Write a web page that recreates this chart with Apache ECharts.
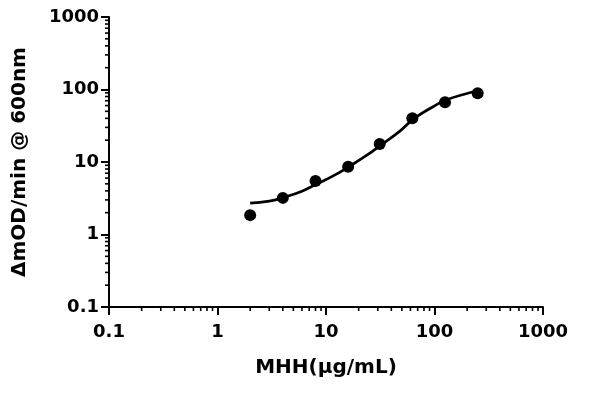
<!DOCTYPE html>
<html>
<head>
<meta charset="utf-8">
<script src="https://cdn.jsdelivr.net/npm/echarts@6/dist/echarts.min.js"></script>
<style>html,body{margin:0;padding:0;background:#fff}#c{width:600px;height:394px}</style>
</head>
<body>
<div id="c"></div>
<script>
// Data
const conc = [2, 4, 8, 16, 31.25, 62.5, 125, 250];
const rate = [1.85, 3.2, 5.45, 8.6, 17.7, 40.0, 66.5, 88.6];
// Fitted curve
const curveX = [2, 3, 4, 6, 8, 12, 16, 24, 32, 48, 64, 96, 128, 192, 250];
const curveY = [2.71, 2.88, 3.22, 3.96, 4.87, 6.59, 8.5, 12.5, 17.1, 26.7, 39.1, 57.3, 71.6, 86.7, 95.3];
const xTicks = [0.1, 1, 10, 100, 1000];
const yTicks = [0.1, 1, 10, 100, 1000];
const xTitle = 'MHH(\u03bcg/mL)';
const yTitle = '\u0394mOD/min @ 600nm';

// minor tick positions (2..9 within each decade)
function minorTicks(ticks) {
  const out = [];
  for (let i = 0; i < ticks.length - 1; i++) {
    for (let k = 2; k <= 9; k++) out.push(+(ticks[i] * k).toPrecision(6));
  }
  return out;
}
const xMinor = minorTicks(xTicks);
const yMinor = minorTicks(yTicks);

const FONT = 'DejaVu Sans';
const chart = echarts.init(document.getElementById('c'), null, {renderer: 'canvas'});
const fmt = v => String(+(+v).toPrecision(6));
chart.setOption({
  animation: false,
  backgroundColor: '#fff',
  grid: {left: 109, top: 17, width: 434, height: 290, containLabel: false},
  xAxis: {
    type: 'log', logBase: 10, min: xTicks[0], max: xTicks[xTicks.length - 1],
    name: xTitle, nameLocation: 'middle', nameGap: 51,
    nameTextStyle: {fontFamily: FONT, fontWeight: 'bold', fontSize: 20, color: '#000'},
    axisLine: {show: true, onZero: false, lineStyle: {color: '#000', width: 2}},
    axisTick: {show: true, inside: false, length: 8, lineStyle: {color: '#000', width: 2}},
    axisLabel: {fontFamily: FONT, fontWeight: 'bold', fontSize: 18, color: '#000', margin: 16, formatter: fmt, showMinLabel: true, showMaxLabel: true},
    splitLine: {show: false},
    minorTick: {show: false}
  },
  yAxis: {
    type: 'log', logBase: 10, min: yTicks[0], max: yTicks[yTicks.length - 1],
    name: yTitle, nameLocation: 'middle', nameGap: 79, nameRotate: 90,
    nameTextStyle: {fontFamily: FONT, fontWeight: 'bold', fontSize: 20, color: '#000'},
    axisLine: {show: true, onZero: false, lineStyle: {color: '#000', width: 2}},
    axisTick: {show: true, inside: false, length: 8, lineStyle: {color: '#000', width: 2}},
    axisLabel: {fontFamily: FONT, fontWeight: 'bold', fontSize: 18, color: '#000', margin: 10, formatter: fmt, showMinLabel: true, showMaxLabel: true},
    splitLine: {show: false},
    minorTick: {show: false}
  },
  series: [
    {
      type: 'custom', silent: true, clip: false, z: 1,
      data: xMinor.map(v => [v, yTicks[0]]),
      renderItem: function (params, api) {
        const p = api.coord([api.value(0), api.value(1)]);
        return {type: 'line', shape: {x1: p[0], y1: p[1], x2: p[0], y2: p[1] + 4},
          style: {stroke: '#000', lineWidth: 1.6}};
      }
    },
    {
      type: 'custom', silent: true, clip: false, z: 1,
      data: yMinor.map(v => [xTicks[0], v]),
      renderItem: function (params, api) {
        const p = api.coord([api.value(0), api.value(1)]);
        return {type: 'line', shape: {x1: p[0], y1: p[1], x2: p[0] - 4, y2: p[1]},
          style: {stroke: '#000', lineWidth: 1.6}};
      }
    },
    {
      type: 'line', smooth: true, showSymbol: false, silent: true, z: 2,
      data: curveX.map((x, i) => [x, curveY[i]]),
      lineStyle: {color: '#000', width: 2.7}
    },
    {
      type: 'scatter', symbol: 'circle', symbolSize: 12, z: 3,
      data: conc.map((x, i) => [x, rate[i]]),
      itemStyle: {color: '#000', opacity: 1}
    }
  ]
});
</script>
</body>
</html>
